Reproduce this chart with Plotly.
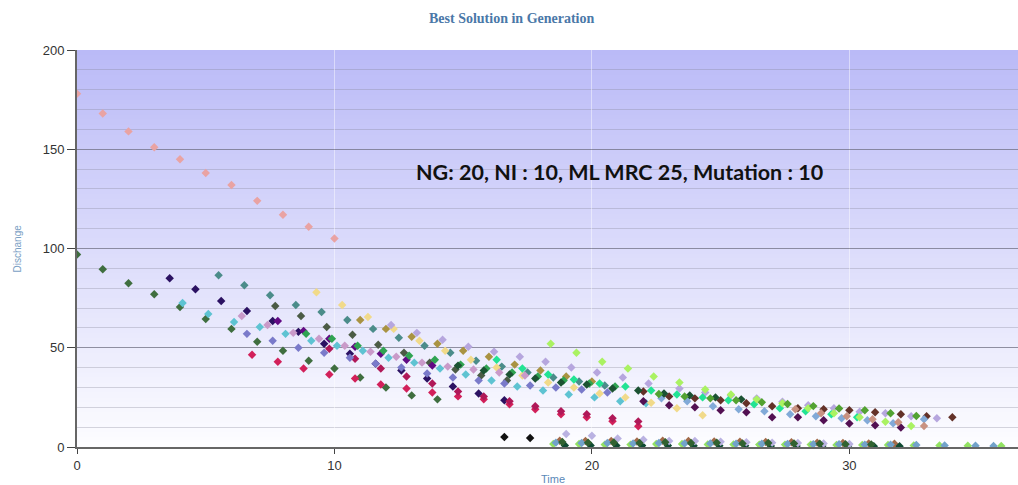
import plotly.graph_objects as go

# ---------------- data ----------------
s01_x = [0, 1, 2, 3, 4, 5, 6, 7, 8, 9, 10]
s01_y = [178, 168, 159, 151, 145, 138, 132, 124, 117, 111, 105]

s02_x = [0, 1, 2, 3, 4, 5, 6, 7, 8, 9, 10, 11, 12, 13, 14]
s02_y = [97, 89.5, 82.5, 77, 70.5, 64.5, 59.5, 53, 48.5, 43.5, 39.5, 35, 30, 26, 24]

s03_x = [4.1, 5.1, 6.1, 7.1, 8.1, 9.1, 10.1, 11.1, 12.1, 13.1, 14.1, 15.1, 16.1, 17.1, 18.1, 19.1, 20.1, 21.1, 22.1]
s03_y = [72.5, 67, 63, 60.5, 57, 53.5, 51, 48.5, 45, 42.5, 39.5, 36.5, 33.5, 30.5, 28.5, 26.5, 25, 23, 22]

s04_x = [3.6, 4.6, 5.6, 6.6, 7.6, 8.6, 9.6, 10.6, 11.6, 12.6, 13.6, 14.6, 15.6, 16.6]
s04_y = [85, 79.5, 73.5, 68.5, 63.5, 58, 52, 47, 42, 38.5, 34.5, 30.5, 27, 23.5]

s05_x = [5.5, 6.5, 7.5, 8.5, 9.5, 10.5, 11.5, 12.5, 13.5, 14.5, 15.5, 16.5, 17.5, 18.5, 19.5, 20.5]
s05_y = [86.5, 81.5, 76.5, 71.5, 68, 64, 59.5, 55, 51, 47.5, 43.5, 40.5, 37.5, 35, 33, 31]

s06_x = [7.7, 8.7, 9.7, 10.7, 11.7, 12.7, 13.7, 14.7, 15.7, 16.7]
s06_y = [71, 66, 60.5, 56.5, 51.5, 47.5, 42.5, 39, 36, 33.5]

s07_x = [9.3, 10.3, 11.3, 12.3, 13.3, 14.3, 15.3, 16.3, 17.3, 18.3, 19.3, 20.3, 21.3, 22.3, 23.3, 24.3]
s07_y = [78, 71.5, 65.5, 59.5, 53.5, 48.5, 44, 40, 36, 32.5, 30, 27, 25, 22.3, 19.5, 16]

s08_x = [11, 12, 13, 14, 15, 16, 17, 18, 19, 20]
s08_y = [64, 59.5, 55.5, 52, 48.5, 45.5, 41.5, 38.5, 35.5, 33]

s09_x = [12.2, 13.2, 14.2, 15.2, 16.2, 17.2, 18.2, 19.2, 20.2, 21.2, 22.2, 23.4, 24.4, 25.4, 26.4, 27.4, 28.4, 29.4, 30.4, 31.4, 32.4, 33.4]
s09_y = [61.5, 57.5, 54, 50.5, 48, 45.5, 43, 40, 37.5, 35, 32, 29.5, 27.5, 26, 24.5, 22.8, 21, 19.5, 17.8, 17, 15.5, 14.5]

s10_x = [6.8, 7.8, 8.8, 9.8, 10.8, 11.8, 12.8, 13.8, 14.8, 15.8, 16.8, 17.8, 18.8, 19.8, 20.8, 21.8]
s10_y = [46.5, 43, 39.5, 36.5, 34.5, 31.5, 29.5, 27.5, 25.5, 24, 21.5, 19, 16.5, 15, 13, 10.5]

s11_x = [9.8, 10.8, 11.8, 12.8, 13.8, 14.8, 15.8, 16.8, 17.8, 18.8, 19.8, 20.8, 21.8]
s11_y = [49.5, 44.5, 39.5, 35.5, 32, 28, 25.5, 23, 20.5, 18, 16.5, 14.5, 12.8]

s12_x = [6.6, 7.6, 8.6, 9.6, 10.6, 11.6, 12.6, 13.6, 14.6, 15.6, 16.6, 17.6, 18.6, 19.6, 20.6]
s12_y = [57, 53.5, 50, 47.5, 45, 42, 40, 37, 35, 33.5, 32, 31, 30, 29, 27.5]

s13_x = [6.4, 7.4, 8.4, 9.4, 10.4, 11.4, 12.4, 13.4, 14.4, 15.4, 16.4, 17.4]
s13_y = [66, 61.5, 57.5, 54.5, 51, 48, 45.5, 42.5, 40.5, 39, 37.5, 36]

s14_x = [7.8, 8.8, 9.8, 10.8, 11.8, 12.8, 13.8]
s14_y = [63.5, 58.5, 54.5, 50.5, 47, 44, 41]

s15_x = [8.9, 9.9, 10.9, 11.9, 12.9, 13.9, 14.9, 15.9, 16.9, 17.9, 18.9, 19.9, 20.9]
s15_y = [57, 54.5, 51, 48.5, 46, 44, 41.5, 39.5, 37.5, 35.5, 33.5, 32, 30.5]

s16_x = [16.3, 17.3, 18.3, 19.3, 20.3, 21.3, 22.3, 23.3, 24.3, 25.3, 26.3, 27.3, 28.3, 29.3, 30.3]
s16_y = [44, 39.5, 36.5, 34, 32, 30.5, 28.5, 26.5, 25, 23.5, 21.5, 19.5, 18, 16.5, 15]

s17_x = [18.4, 19.4, 20.4, 21.4, 22.4, 23.4, 24.4, 25.4, 26.4, 27.4, 28.4, 29.4, 30.4, 31.4, 32.4]
s17_y = [52, 47.5, 43, 39.5, 35.5, 32.5, 29, 26.5, 24, 22, 19.5, 17, 15, 12.7, 10.6]

s18_x = [22, 23, 24, 25, 26, 27, 28, 29, 30, 31, 32, 33, 34]
s18_y = [28, 25.5, 24.5, 23.5, 22, 20.5, 19.5, 19, 18.5, 17.5, 16.5, 15.5, 15]

s19_x = [22, 23, 24, 25, 26, 27, 28, 29, 30, 31, 32]
s19_y = [23, 21, 20, 18.5, 17.5, 15, 15, 13.5, 11.8, 11, 9.8]

s20_x = [22.7, 23.7, 24.7, 25.7, 26.7, 27.7, 28.7, 29.7, 30.7, 31.7, 32.9]
s20_y = [24.5, 23, 20.5, 19, 18, 16.5, 15.5, 14.5, 13.5, 12, 14]

s21_x = [27.9, 28.9, 29.9, 30.9, 31.9, 32.9]
s21_y = [19, 17, 15.5, 14, 12.5, 10.6]

s22_x = [14.8, 15.8, 16.8, 17.8, 18.8, 19.8, 20.8, 21.8, 22.8, 23.8, 24.8, 25.8]
s22_y = [41, 38.5, 36.5, 34.5, 32.5, 31.5, 29.5, 28.5, 27, 26, 25, 24]

s23_x = [16.6, 17.6]
s23_y = [5, 4.5]

s24_x = [22.6, 23.6, 24.6, 25.6, 26.6, 27.6, 28.6, 29.6, 30.6, 31.6, 32.6]
s24_y = [26.7, 25.5, 24.5, 23.5, 22.5, 21.7, 20.6, 19.4, 18.5, 17, 15.6]

# near-zero clusters
c1_x = [18.5, 19.5, 20.5, 21.5, 22.5, 23.5, 24.5, 25.5, 26.5, 27.5, 28.5, 29.5, 30.5, 31.5, 32.5, 33.5, 34.6, 35.9]
c1_y = [1.5, 1.5, 1.2, 1.2, 1.5, 1.5, 1.3, 1.3, 1.2, 1.2, 1.2, 1.0, 1.0, 1.0, 0.8, 0.8, 0.6, 0.5]
c2_x = [18.75, 19.75, 20.75, 21.75, 22.75, 23.75, 24.75, 25.75, 26.75, 27.75, 28.75, 29.75, 30.75, 31.75]
c2_y = [3.2, 3.0, 3.0, 2.8, 3.2, 3.0, 2.8, 2.6, 2.5, 2.4, 2.2, 2.0, 1.8, 1.6]
c3_x = [18.95, 19.95, 20.95, 21.95, 22.95, 23.95, 24.95, 25.95, 26.95, 27.95, 28.95, 29.95, 30.95, 31.95]
c3_y = [0.8, 0.8, 0.7, 0.7, 0.7, 0.6, 0.6, 0.6, 0.5, 0.5, 0.5, 0.5, 0.4, 0.4]
c4_x = [19.0, 20.0, 21.0, 22.0, 23.0, 24.0, 25.0, 26.0, 27.0, 28.0, 29.0, 30.0]
c4_y = [6.5, 5.7, 4.3, 3.7, 3.0, 3.0, 2.6, 2.4, 2.2, 2.0, 1.8, 1.5]
c5_x = [18.6, 19.6, 20.6, 21.6, 22.6, 23.6, 24.6, 25.6, 26.6, 27.6, 28.6, 29.6, 30.6, 31.6, 32.6, 33.7, 34.9, 35.6]
c5_y = [2.2, 2.0, 2.0, 1.8, 2.0, 1.8, 1.8, 1.6, 1.6, 1.5, 1.4, 1.4, 1.2, 1.2, 1.0, 0.8, 0.6, 0.5]
c6_x = [18.85, 19.85, 20.85, 21.85, 22.85, 23.85, 24.85, 25.85, 26.85, 27.85, 28.85, 29.85, 30.85]
c6_y = [2.5, 2.2, 2.3, 2.0, 2.4, 2.0, 2.2, 1.8, 2.0, 1.8, 1.6, 1.4, 1.3]

series = [
    (s01_x, s01_y, "#e9a3a3"), (s02_x, s02_y, "#3f6e3f"), (s03_x, s03_y, "#5ec3d2"),
    (s04_x, s04_y, "#2b1162"), (s05_x, s05_y, "#4b8c8a"), (s06_x, s06_y, "#4b5b45"),
    (s07_x, s07_y, "#f1da8a"), (s08_x, s08_y, "#a99342"), (s09_x, s09_y, "#b6a6de"),
    (s10_x, s10_y, "#d2205a"), (s11_x, s11_y, "#b01858"), (s12_x, s12_y, "#7a7aca"),
    (s13_x, s13_y, "#c99ac9"), (s14_x, s14_y, "#620a84"), (s15_x, s15_y, "#2fa352"),
    (s16_x, s16_y, "#22e394"), (s17_x, s17_y, "#aaf262"), (s18_x, s18_y, "#633128"),
    (s19_x, s19_y, "#521052"), (s20_x, s20_y, "#82aad8"), (s21_x, s21_y, "#c99282"),
    (s22_x, s22_y, "#1b5232"), (s23_x, s23_y, "#111111"), (s24_x, s24_y, "#52a232"),
    (c1_x, c1_y, "#92e262"), (c2_x, c2_y, "#a26a4a"), (c3_x, c3_y, "#0f4a32"),
    (c4_x, c4_y, "#bab2e2"), (c5_x, c5_y, "#72a2ca"), (c6_x, c6_y, "#316231"),
]

fig = go.Figure()
for xs, ys, col in series:
    fig.add_trace(go.Scatter(x=xs, y=ys, mode="markers",
                             marker=dict(symbol="diamond", size=6.5, color=col, line=dict(width=0)),
                             showlegend=False, hoverinfo="x+y"))

# gradient background: stacked rects (each from its lower edge to the top) so no seams
shapes = []
n = 80
top = (186, 186, 247)
bot = (253, 253, 255)
for i in range(n):
    f = (i + 0.5) / n
    c = tuple(int(round(bot[k] + (top[k] - bot[k]) * f)) for k in range(3))
    shapes.append(dict(type="rect", xref="paper", yref="paper", x0=0, x1=1,
                       y0=i / n, y1=1, line=dict(width=0),
                       fillcolor="rgb(%d,%d,%d)" % c, layer="below"))

fig.update_layout(
    width=1018, height=485,
    margin=dict(l=77, r=0, t=50, b=38),
    paper_bgcolor="white", plot_bgcolor="white",
    shapes=shapes,
    font=dict(family="Liberation Sans, Arial, sans-serif", size=13, color="#333"),
    xaxis=dict(range=[0, 36.55], tickvals=[0, 10, 20, 30], ticks="outside", ticklen=5,
               tickcolor="#444", showline=True, linecolor="#666", linewidth=2,
               showgrid=True, gridcolor="rgba(255,255,255,0.45)", gridwidth=1, zeroline=False,
               tickfont=dict(size=13, color="#333")),
    yaxis=dict(range=[0, 200], tickvals=[0, 50, 100, 150, 200], ticks="outside", ticklen=8,
               tickcolor="#444", showline=True, linecolor="#666", linewidth=2,
               showgrid=True, gridcolor="rgba(110,110,130,0.65)", gridwidth=1, zeroline=False,
               minor=dict(dtick=10, showgrid=True, gridcolor="rgba(130,130,150,0.32)", gridwidth=1, ticks=""),
               tickfont=dict(size=13, color="#333")),
    annotations=[
        dict(text="<b>Best Solution in Generation</b>", xref="paper", yref="paper",
             x=0.462, y=1.0806, xanchor="center", yanchor="middle", showarrow=False,
             font=dict(family="Liberation Serif, serif", size=14, color="#4a78a8")),
        dict(text="<b>NG: 20, NI : 10, ML MRC 25, Mutation : 10</b>", xref="paper", yref="paper",
             x=0.577, y=0.693, xanchor="center", yanchor="middle", showarrow=False,
             font=dict(family="Lato, sans-serif", size=21.5, color="#111")),
        dict(text="Dischange", xref="paper", yref="paper", x=-0.0627, y=0.5,
             xanchor="center", yanchor="middle", textangle=-90, showarrow=False,
             font=dict(family="Liberation Sans, Arial, sans-serif", size=10, color="#7aa0c4")),
        dict(text="Time", xref="paper", yref="paper", x=0.506, y=-0.08,
             xanchor="center", yanchor="middle", showarrow=False,
             font=dict(family="Liberation Sans, Arial, sans-serif", size=11, color="#5a88b8")),
    ],
)

fig.write_html("out.html")
